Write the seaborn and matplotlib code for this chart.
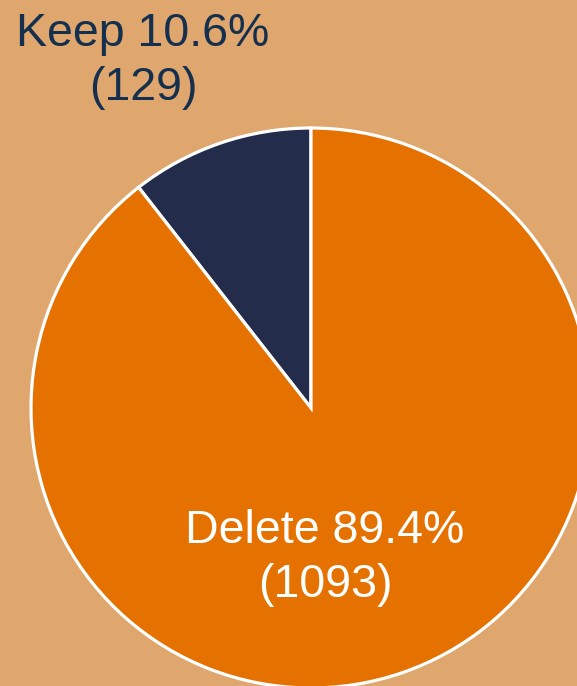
import numpy as np
import seaborn as sns
import matplotlib.pyplot as plt

labels = ['Keep', 'Delete']
counts = [129, 1093]
colors = ['#232C4A', '#E57200']
bg = '#DFA66E'

sns.set_style('white', {'axes.facecolor': bg, 'figure.facecolor': bg})
plt.rcParams['font.family'] = ['Liberation Sans', 'DejaVu Sans']

fig = plt.figure(figsize=(5.77, 6.86), dpi=100)
ax = fig.add_axes([0, 0, 1, 1])
ax.set_facecolor(bg)

total = sum(counts)
pct = [c / total * 100 for c in counts]

ax.pie(counts, colors=colors, startangle=90, counterclock=True,
       center=(311, 278), radius=280,
       wedgeprops=dict(edgecolor='white', linewidth=2.3))

ax.set_xlim(0, 577)
ax.set_ylim(0, 686)
ax.set_aspect('equal')
ax.axis('off')

ax.text(143, 625, f'{labels[0]} {pct[0]:.1f}%\n({counts[0]})', ha='center', va='center',
        color='#14304E', fontsize=33.5, linespacing=1.3)
ax.text(325, 128, f'{labels[1]} {pct[1]:.1f}%\n({counts[1]})', ha='center', va='center',
        color='white', fontsize=33.5, linespacing=1.3)

fig.savefig('out.png', dpi=100, facecolor=bg)
